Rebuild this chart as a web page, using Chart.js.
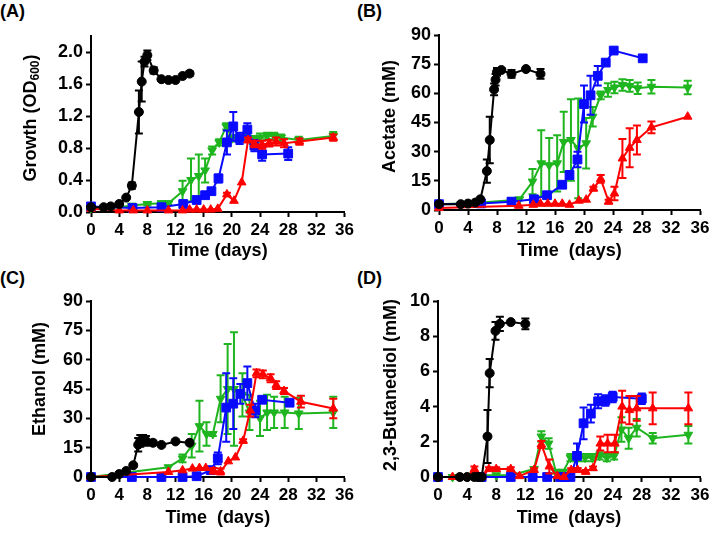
<!DOCTYPE html>
<html><head><meta charset="utf-8">
<script src="https://cdn.jsdelivr.net/npm/chart.js@4/dist/chart.umd.min.js"></script>
<style>
html,body{margin:0;padding:0;background:#fff}
body{width:714px;height:534px;position:relative;overflow:hidden;font-family:"Liberation Sans",Arial,sans-serif}
canvas{position:absolute}
.lbl{position:absolute;font-weight:bold;font-size:18px;line-height:1;color:#000}
</style></head><body>
<div class="lbl" style="left:0;top:2px">(A)</div>
<div class="lbl" style="left:357px;top:2px">(B)</div>
<div class="lbl" style="left:0;top:269px">(C)</div>
<div class="lbl" style="left:357px;top:269px">(D)</div>
<canvas id="cA" width="357" height="267" style="left:0;top:0"></canvas>
<canvas id="cB" width="357" height="267" style="left:357px;top:0"></canvas>
<canvas id="cC" width="357" height="267" style="left:0;top:267px"></canvas>
<canvas id="cD" width="357" height="267" style="left:357px;top:267px"></canvas>
<script>
// ---------- data ----------
const xTicks = [0,4,8,12,16,20,24,28,32,36];

// (A) Growth OD600
const gBlackDays = [0,1.8,2.8,4,5,5.8,6.8,7.2,7.6,8,8.9,10,11,12,13,14];
const gBlackVal  = [0.06,0.06,0.07,0.1,0.18,0.33,1.25,1.63,1.88,1.96,1.77,1.66,1.65,1.65,1.70,1.73];
const gBlackErr  = [0.01,0.01,0.01,0.01,0.01,0.04,0.27,0.25,0.06,0.06,0.04,0.01,0.01,0.01,0.01,0.03];
const gGreenDays = [0,4,5.8,8,10,11,13,14.2,15.3,16.2,17.2,18.2,19.2,20,21,22,23,24,25,26,27,29.5,34.4];
const gGreenVal  = [0.05,0.06,0.08,0.1,0.11,0.11,0.26,0.40,0.45,0.52,0.77,0.87,1.07,0.92,0.93,0.93,0.9,0.93,0.95,0.95,0.93,0.9,0.95];
const gGreenErr  = [0.01,0.01,0.01,0.02,0.02,0.02,0.13,0.27,0.27,0.15,0.05,0.04,0.04,0.04,0.04,0.04,0.05,0.05,0.04,0.04,0.04,0.04,0.05];
const gBlueDays  = [0,5.9,10,13.1,15,16.2,17.1,18.1,19.3,20.2,21.1,22.2,23.2,24.3,28];
const gBlueVal   = [0.07,0.05,0.06,0.1,0.15,0.21,0.26,0.42,0.87,1.07,0.92,1.03,0.83,0.72,0.73];
const gBlueErr   = [0.01,0.01,0.01,0.01,0.02,0.02,0.02,0.05,0.15,0.18,0.07,0.08,0.07,0.08,0.08];
const gRedDays   = [0,4,6,8,11,13,14,15,16,17,18,19.3,20.3,21.4,22.3,23.2,24.3,25.3,26.3,27.4,29.6,34.4];
const gRedVal    = [0.04,0.02,0.02,0.02,0.02,0.02,0.03,0.03,0.03,0.03,0.04,0.22,0.14,0.37,0.9,0.85,0.84,0.86,0.88,0.86,0.88,0.93];
const gRedErr    = [0,0,0,0,0,0,0.01,0.01,0.01,0.01,0.01,0.02,0.01,0.01,0.03,0.04,0.05,0.04,0.05,0.05,0.04,0.04];

// (B) Acetate (mM)
const aBlackDays = [0,3,4,5,5.7,6.6,7,7.6,7.8,8,8.6,10,12,14];
const aBlackVal  = [3,3,3.3,3.8,5.5,20,36,62,67,71,72,70,72.5,70];
const aBlackErr  = [0.3,0.3,0.3,0.3,0.5,6,12,3,3,2,1,2,0.5,2.5];
const aGreenDays = [0,5.8,10,11.1,12.9,14.1,15.2,16.3,17.2,18.2,19.2,20.3,21.2,22.3,23.3,24.2,25.3,26.3,27.4,29.3,34.3];
const aGreenVal  = [3,3.9,5,5.5,14.6,24,23,24,35,36,31.7,34.3,48,59,61.7,63,64.3,63.8,62.6,63.4,63];
const aGreenErr  = [0.3,0.3,0.5,0.5,6.5,17,14,14.5,15.5,21,25.7,13,5,2,3.5,3,3,3,3,3.5,3.5];
const aBlueDays  = [0,5.8,10,13.1,14.9,17,18,19.1,20,20.9,21.9,23,24.1,28.1];
const aBlueVal   = [3,3.4,4.3,5.5,7.6,13,18,26,54.5,59,69,75.8,82,78];
const aBlueErr   = [0.3,0.3,0.5,0.5,1,1,2,4,9.5,10,5,1.5,0.5,1];
const aRedDays   = [0,11,13,14,15,16,17,18,19.3,20.3,21.3,22.3,23.4,24.2,25.3,26.3,27.3,29.3,34.3];
const aRedVal    = [1,2.2,2.7,3.2,3.2,3.2,3.2,2.7,4.8,5.3,11,16,4.3,8.5,26.5,32,36,42.5,48];
const aRedErr    = [0.3,0.3,0.5,0.5,0.5,0.5,0.5,0.3,0.5,0.5,1,2,1,3.5,10,10,7.5,3,0.5];

// (C) Ethanol (mM)
const eBlackDays = [0,3,4,5,6,6.7,7,7.4,7.8,8.8,10,12,14];
const eBlackVal  = [0,0,1.5,3.1,6,16.5,18.5,19,18.5,17.5,16.4,18.2,17.5];
const eBlackErr  = [0,0,0.3,0.4,0.8,3.5,3,2.5,2.5,1,0.5,0.5,0.5];
const eGreenDays = [0,11,13,14.3,15.4,16.4,17.3,18.4,19.4,20.3,21.5,22.5,24,25,26,27.5,29.5,34.4];
const eGreenVal  = [0,5,9.5,16,26,22,22,40,45,45,42,33,30,33,33,33,32.5,33];
const eGreenErr  = [0,0.5,2,6,13,6,1,12,23,29,11,9,9,9,8,8,8,8];
const eBlueDays  = [0,5.8,10,13,15,17,18,19.2,20.2,21.2,22.2,23.3,24.3,28.2];
const eBlueVal   = [0,0,0,0,0.4,3.5,9.5,35.5,37.5,42.5,48,34,39.5,38];
const eBlueErr   = [0,0,0,0,0.3,1,3,17.5,13,5,8.5,3.5,1.5,1];
const eRedDays   = [0,11,13,14.4,15.4,16.3,17.4,18.4,19.5,20.5,21.6,22.6,23.5,24.4,25.5,26.3,27.4,29.8,34.4];
const eRedVal    = [0,2.6,3.4,4.3,4.6,4.6,3.1,2.8,8,10,18.5,34,53,52.5,50.5,47,44,38.5,35];
const eRedErr    = [0,0.3,0.4,0.5,0.5,0.5,1.5,1.5,0.5,0.5,0.8,3,2,2,2,2,1.5,3,5];

// (D) 2,3-Butanediol (mM)
const bBlackDays = [0,3,4,5,5.5,6,6.8,7.1,7.9,8.5,10,12];
const bBlackVal  = [0,0,0,0,0,0,2.3,5.9,8.3,8.7,8.8,8.7];
const bBlackErr  = [0,0,0,0,0,0,1.5,0.8,0.5,0.4,0.05,0.3];
const bGreenDays = [0,2,4,5,6,8,10,13.2,14.2,15.2,16.2,17.2,18.2,19.2,20.2,21.2,22.2,23.2,24.2,25.2,26.2,27.3,29.5,34.4];
const bGreenVal  = [0,0,0,0.1,0.1,0.1,0.1,0.45,2.3,1.9,0.3,0.3,1.1,1.1,1.1,1.1,1.2,1.1,1.2,2.7,2.2,2.8,2.2,2.4];
const bGreenErr  = [0,0,0,0.05,0.05,0.05,0.05,0.1,0.3,0.3,0.1,0.1,0.2,0.2,0.2,0.2,0.2,0.2,0.2,0.7,0.6,0.5,0.3,0.5];
const bBlueDays  = [0,6,10,13,15,16.8,17.4,18.2,19.1,20,21,22,23,24,28];
const bBlueVal   = [0,0,0,0,0,0,0,0,1.2,3.05,3.6,4.3,4.35,4.55,4.45];
const bBlueErr   = [0,0,0,0,0,0,0,0,0.7,0.9,0.5,0.4,0.3,0.3,0.3];
const bRedDays   = [0,2,4,5,6,7,8,10,11.2,13.2,14.2,15.3,16.4,17.3,18.3,19.2,20.3,21.3,22.3,23.3,24.3,25.3,26.3,27.3,29.5,34.4];
const bRedVal    = [0,0,0,0.45,0,0.45,0.45,0.45,0.05,0.4,1.85,0.6,0.05,0,0.4,0.4,0.3,0.5,1.9,1.9,1.9,4.0,3.8,3.9,3.9,3.9];
const bRedErr    = [0,0,0,0.15,0,0.1,0.1,0.1,0,0.1,0.2,0.4,0,0,0.1,0.1,0.1,0.1,0.4,0.5,0.5,0.9,0.8,0.7,0.9,0.9];

// ---------- styling ----------
const FONT = '"Liberation Sans", Arial, sans-serif';
const COL = {black:'#000000', green:'#1fb51f', blue:'#0a0aff', red:'#ff0000'};
const zip = (xs, ys) => xs.map((x,i)=>({x:x, y:ys[i]}));

function series(color, shape, rot, radius, days, vals, errs){
  return {
    data: zip(days, vals), err: errs,
    borderColor: color, backgroundColor: color,
    pointBackgroundColor: color, pointBorderColor: color,
    borderWidth: 2, pointStyle: shape, pointRotation: rot,
    pointRadius: radius, pointBorderWidth: 1, tension: 0, clip: false
  };
}

const errorBars = {
  id: 'errorBars',
  afterDatasetDraw(chart, args){
    const ds = chart.data.datasets[args.index];
    if (!ds.err) return;
    const ys = chart.scales.y, ctx = chart.ctx;
    ctx.save();
    ctx.strokeStyle = ds.borderColor; ctx.lineWidth = 2;
    args.meta.data.forEach((pt, j) => {
      const e = ds.err[j]; if (!e) return;
      const v = ds.data[j].y;
      const y1 = ys.getPixelForValue(v + e), y2 = ys.getPixelForValue(v - e);
      if (Math.abs(y2 - y1) < 2) return;
      const x = pt.x, w = 4;
      ctx.beginPath();
      ctx.moveTo(x, y1); ctx.lineTo(x, y2);
      ctx.moveTo(x - w, y1); ctx.lineTo(x + w, y1);
      ctx.moveTo(x - w, y2); ctx.lineTo(x + w, y2);
      ctx.stroke();
    });
    ctx.restore();
  }
};

const yTitle = {
  id: 'yTitle',
  afterDraw(chart, args, opts){
    if (!opts || !opts.parts) return;
    const ctx = chart.ctx, ca = chart.chartArea;
    ctx.save();
    const yc = (ca.top + ca.bottom)/2 + (opts.dy || 0);
    ctx.translate(opts.x, yc);
    ctx.rotate(-Math.PI/2);
    ctx.fillStyle = '#000';
    ctx.textBaseline = 'middle';
    let total = 0;
    opts.parts.forEach(p => { ctx.font = 'bold ' + p.size + 'px ' + FONT; total += ctx.measureText(p.t).width; });
    let cx = -total/2;
    opts.parts.forEach(p => {
      ctx.font = 'bold ' + p.size + 'px ' + FONT;
      ctx.textAlign = 'left';
      ctx.fillText(p.t, cx, p.off || 0);
      cx += ctx.measureText(p.t).width;
    });
    ctx.restore();
  }
};

function makeChart(id, cfg){
  return new Chart(document.getElementById(id), {
    type: 'line',
    data: { datasets: cfg.datasets },
    plugins: [errorBars, yTitle],
    options: {
      responsive: false, animation: false,
      layout: { padding: { left: 0, right: cfg.right, top: cfg.top, bottom: 0 } },
      plugins: { legend:{display:false}, tooltip:{enabled:false}, yTitle: cfg.yTitle },
      scales: {
        x: {
          type: 'linear', min: 0, max: 36,
          afterBuildTicks: s => { s.ticks = xTicks.map(v => ({value:v})); },
          ticks: { color:'#000', font: {size:17, weight:'bold', family:FONT}, padding: 3, maxRotation: 0, autoSkip: false },
          grid: { display: true, drawOnChartArea: false, tickLength: 5, tickWidth: 2, tickColor: '#000' },
          border: { display: true, color: '#000', width: 2 },
          title: { display: true, text: cfg.xTitle, color: '#000', font: {size:18, weight:'bold', family:FONT}, padding: {top:0, bottom:5} },
          afterFit: s => { s.height = cfg.xh; }
        },
        y: {
          type: 'linear', min: 0, max: cfg.ymax,
          afterBuildTicks: s => { s.ticks = cfg.yTicks.map(v => ({value:v})); },
          ticks: { color:'#000', font: {size:18, weight:'bold', family:FONT}, padding: 3, callback: cfg.fmt },
          grid: { display: true, drawOnChartArea: false, tickLength: 5, tickWidth: 2, tickColor: '#000' },
          border: { display: true, color: '#000', width: 2 },
          title: { display: false },
          afterFit: s => { s.width = cfg.yw; }
        }
      }
    }
  });
}

makeChart('cA', {
  datasets: [
    series(COL.black,'circle',0,4.5,gBlackDays,gBlackVal,gBlackErr),
    series(COL.red,'triangle',0,5,gRedDays,gRedVal,gRedErr),
    series(COL.blue,'rect',0,6.2,gBlueDays,gBlueVal,gBlueErr),
    series(COL.green,'triangle',180,5,gGreenDays,gGreenVal,gGreenErr)
  ],
  ymax: 2.2, yTicks: [0,0.4,0.8,1.2,1.6,2.0], fmt: v => v.toFixed(1),
  yw: 91, xh: 55, top: 36, right: 10, xTitle: 'Time (days)',
  yTitle: { x: 31, dy: -6, parts: [ {t:'Growth (OD', size:18}, {t:'600', size:12, off:5}, {t:')', size:18} ] }
});
makeChart('cB', {
  datasets: [
    series(COL.black,'circle',0,4.5,aBlackDays,aBlackVal,aBlackErr),
    series(COL.red,'triangle',0,5,aRedDays,aRedVal,aRedErr),
    series(COL.blue,'rect',0,6.2,aBlueDays,aBlueVal,aBlueErr),
    series(COL.green,'triangle',180,5,aGreenDays,aGreenVal,aGreenErr)
  ],
  ymax: 90, yTicks: [0,15,30,45,60,75,90], fmt: v => String(v),
  yw: 82, xh: 57, top: 35, right: 14, xTitle: 'Time  (days)',
  yTitle: { x: 33, dy: -6, parts: [ {t:'Acetate (mM)', size:18} ] }
});
makeChart('cC', {
  datasets: [
    series(COL.black,'circle',0,4.5,eBlackDays,eBlackVal,eBlackErr),
    series(COL.red,'triangle',0,5,eRedDays,eRedVal,eRedErr),
    series(COL.blue,'rect',0,6.2,eBlueDays,eBlueVal,eBlueErr),
    series(COL.green,'triangle',180,5,eGreenDays,eGreenVal,eGreenErr)
  ],
  ymax: 90, yTicks: [0,15,30,45,60,75,90], fmt: v => String(v),
  yw: 91, xh: 57, top: 34, right: 10, xTitle: 'Time  (days)',
  yTitle: { x: 40, dy: -10, parts: [ {t:'Ethanol (mM)', size:18} ] }
});
makeChart('cD', {
  datasets: [
    series(COL.black,'circle',0,4.5,bBlackDays,bBlackVal,bBlackErr),
    series(COL.red,'triangle',0,5,bRedDays,bRedVal,bRedErr),
    series(COL.blue,'rect',0,6.2,bBlueDays,bBlueVal,bBlueErr),
    series(COL.green,'triangle',180,5,bGreenDays,bGreenVal,bGreenErr)
  ],
  ymax: 10, yTicks: [0,2,4,6,8,10], fmt: v => String(v),
  yw: 81, xh: 57, top: 34, right: 14, xTitle: 'Time  (days)',
  yTitle: { x: 34, dy: -4, parts: [ {t:'2,3-Butanediol (mM)', size:18} ] }
});
</script>
</body></html>
